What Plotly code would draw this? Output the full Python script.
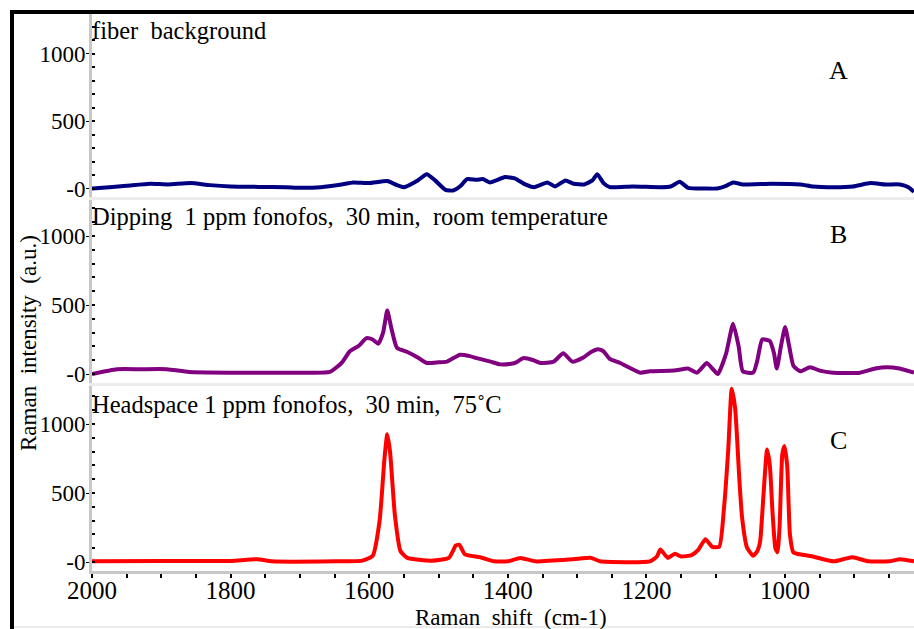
import plotly.graph_objects as go

# ---- spectra: Raman shift (cm-1) and intensity (a.u.) ----
shift_a = [2000, 1975, 1950, 1916, 1890, 1858, 1830, 1800, 1760, 1720, 1700, 1670, 1640, 1623,
           1600, 1574, 1560, 1550, 1530, 1517, 1505, 1490, 1479, 1468, 1459, 1445, 1436, 1426,
           1404, 1390, 1375, 1362, 1343, 1332, 1317, 1305, 1290, 1278, 1271, 1262, 1253, 1220,
           1180, 1165, 1152, 1140, 1115, 1098, 1085, 1075, 1061, 1020, 978, 960, 930, 902, 877,
           855, 834, 822, 814]
fiber_background = [0, 10, 20, 35, 30, 40, 25, 15, 12, 10, 5, 10, 30, 45,
                    40, 55, 25, 10, 60, 105, 60, -10, -15, 20, 70, 65, 70, 45,
                    85, 75, 30, 10, 45, 15, 60, 35, 30, 60, 105, 40, 10, 15,
                    10, 15, 50, 5, 0, 0, 20, 45, 30, 35, 30, 15, 10, 15, 40,
                    30, 30, 10, -25]

shift_b = [2000, 1964, 1930, 1892, 1860, 1800, 1740, 1700, 1657, 1640, 1628, 1615, 1604, 1595,
           1587, 1580, 1574, 1568, 1560, 1545, 1530, 1517, 1500, 1488, 1469, 1455, 1445, 1425,
           1411, 1395, 1388, 1378, 1363, 1353, 1334, 1320, 1307, 1291, 1280, 1270, 1262, 1253,
           1238, 1209, 1195, 1160, 1140, 1127, 1113, 1105, 1097, 1085, 1075, 1067, 1061, 1046,
           1040, 1033, 1022, 1016, 1012, 1006, 1000, 994, 988, 978, 964, 950, 931, 892, 870,
           853, 835, 814]
dipping = [0, 35, 35, 35, 15, 10, 10, 10, 15, 80, 165, 205, 260, 250,
           220, 300, 460, 330, 190, 160, 120, 80, 85, 90, 140, 130, 115, 90,
           70, 75, 85, 115, 100, 80, 90, 150, 90, 120, 160, 180, 165, 110,
           80, 10, 20, 25, 40, 10, 80, 40, 0, 150, 365, 200, 20, 10,
           100, 250, 240, 150, 40, 200, 340, 200, 60, 20, 50, 25, 10, 10, 40,
           50, 40, 10]

shift_c = [2000, 1900, 1800, 1762, 1740, 1650, 1610, 1595, 1585, 1578, 1574, 1570, 1563, 1555,
           1545, 1510, 1485, 1475, 1470, 1462, 1440, 1420, 1400, 1382, 1360, 1306, 1280, 1267,
           1195, 1185, 1180, 1173, 1169, 1159, 1150, 1135, 1125, 1115, 1105, 1095, 1088, 1082,
           1077, 1072, 1066, 1062, 1055, 1046, 1040, 1036, 1031, 1026, 1022, 1018, 1014, 1011,
           1008, 1004, 1001, 997, 993, 988, 983, 960, 930, 903, 880, 850, 834, 814]
headspace = [5, 8, 8, 20, 5, 5, 10, 45, 300, 750, 925, 800, 340, 80,
             30, 10, 30, 120, 125, 55, 35, 5, 5, 30, 5, 20, 30, 5,
             5, 40, 90, 50, 30, 60, 40, 50, 90, 165, 110, 110, 400, 815,
             1255, 1110, 600, 320, 105, 45, 80, 150, 500, 815, 700, 350, 100, 70,
             250, 780, 840, 700, 200, 70, 60, 40, 5, 35, 5, 5, 20, 5]

panel_titles = ["fiber  background",
                "Dipping  1 ppm fonofos,  30 min,  room temperature",
                "Headspace 1 ppm fonofos,  30 min,  75\u02daC"]
panel_letters = ["A", "B", "C"]
y_tickvals = [0, 500, 1000]
y_ticktext = ["-0", "500", "1000"]
x_tickvals = [2000, 1800, 1600, 1400, 1200, 1000]

W, H = 914, 629
SERIF = "Liberation Serif"


def px(x):
    return x / W


def py(y):
    return 1 - y / H


def nb(s):
    # keep the wide word spacing in SVG text
    return s.replace("  ", " \u00a0")


fig = go.Figure()
fig.add_trace(go.Scatter(x=shift_c, y=headspace, xaxis="x", yaxis="y", mode="lines",
                         line=dict(color="#ff0000", width=4, shape="spline", smoothing=0.5)))
fig.add_trace(go.Scatter(x=shift_b, y=dipping, xaxis="x2", yaxis="y2", mode="lines",
                         line=dict(color="#800080", width=4, shape="spline", smoothing=0.5)))
fig.add_trace(go.Scatter(x=shift_a, y=fiber_background, xaxis="x3", yaxis="y3", mode="lines",
                         line=dict(color="#000080", width=4, shape="spline", smoothing=0.5)))

x_dom = [px(92), 1.0]
x_range = [2000, 814]

yaxis_common = dict(
    anchor="x", automargin=False, showline=True, linecolor="#c8c8c8", linewidth=3,
    mirror=False, showgrid=False, zeroline=False, tickmode="array", tickvals=y_tickvals,
    ticktext=y_ticktext, ticks="outside", ticklen=3, tickwidth=1, tickcolor="black",
    minor=dict(tick0=0, dtick=100, ticks="inside", ticklen=3, tickwidth=1.5, tickcolor="black"),
    tickfont=dict(family=SERIF, size=23, color="black"), ticklabelstandoff=-4,
)

fig.update_layout(
    template="none",
    width=W, height=H, margin=dict(l=0, r=0, t=0, b=0, autoexpand=False),
    paper_bgcolor="white", plot_bgcolor="white", showlegend=False,
    font=dict(family=SERIF, color="black"),
    xaxis=dict(domain=x_dom, range=x_range, anchor="y", automargin=False, showline=True,
               linecolor="#c8c8c8", linewidth=3, showgrid=False, zeroline=False,
               tickmode="array", tickvals=x_tickvals, ticks="outside", ticklen=4,
               tickwidth=1.5, tickcolor="black",
               minor=dict(tick0=0, dtick=50, ticks="outside", ticklen=4, tickwidth=1.5,
                          tickcolor="black"),
               tickfont=dict(family=SERIF, size=25, color="black"), ticklabelstandoff=-9),
    xaxis2=dict(domain=x_dom, range=x_range, anchor="y2", matches="x", automargin=False,
                showline=True, linecolor="#ececec", linewidth=3, showgrid=False,
                zeroline=False, showticklabels=False, ticks=""),
    xaxis3=dict(domain=x_dom, range=x_range, anchor="y3", matches="x", automargin=False,
                showline=True, linecolor="#ececec", linewidth=3, showgrid=False,
                zeroline=False, showticklabels=False, ticks=""),
    yaxis=dict(domain=[py(571), py(383)], range=[-65, 1297], **yaxis_common),
    yaxis2=dict(domain=[py(383), py(197)], range=[-65, 1283], **yaxis_common),
    yaxis3=dict(domain=[py(197), py(13)], range=[-63, 1300], **yaxis_common),
)

annotations = []
title_y = [31, 217, 404]
letter_y = [70, 234, 440]
for title, ty, letter, ly in zip(panel_titles, title_y, panel_letters, letter_y):
    annotations.append(dict(text=nb(title), x=px(90), y=py(ty), xref="paper", yref="paper",
                            xanchor="left", yanchor="middle", showarrow=False,
                            font=dict(family=SERIF, size=24.5, color="black")))
    annotations.append(dict(text=letter, x=px(838), y=py(ly), xref="paper", yref="paper",
                            xanchor="center", yanchor="middle", showarrow=False,
                            font=dict(family=SERIF, size=26, color="black")))
annotations.append(dict(text=nb("Raman  shift  (cm-1)"), x=px(511), y=py(617), xref="paper",
                        yref="paper", xanchor="center", yanchor="middle", showarrow=False,
                        font=dict(family=SERIF, size=23, color="black")))
annotations.append(dict(text=nb("Raman  intensity  (a.u.)"), x=px(28), y=py(343),
                        xref="paper", yref="paper", xanchor="center", yanchor="middle",
                        textangle=-90, showarrow=False,
                        font=dict(family=SERIF, size=23, color="black")))
fig.update_layout(annotations=annotations)

# outer frame: thick black top and left edges, faint bottom edge
fig.update_layout(shapes=[
    dict(type="line", xref="paper", yref="paper", x0=px(10), x1=1.0, y0=py(12), y1=py(12),
         line=dict(color="black", width=4)),
    dict(type="line", xref="paper", yref="paper", x0=px(12), x1=px(12), y0=py(10), y1=0,
         line=dict(color="black", width=4)),
    dict(type="line", xref="paper", yref="paper", x0=px(14), x1=1.0, y0=py(627), y1=py(627),
         line=dict(color="#d8d8d8", width=1)),
])

fig.write_html("out.html")
